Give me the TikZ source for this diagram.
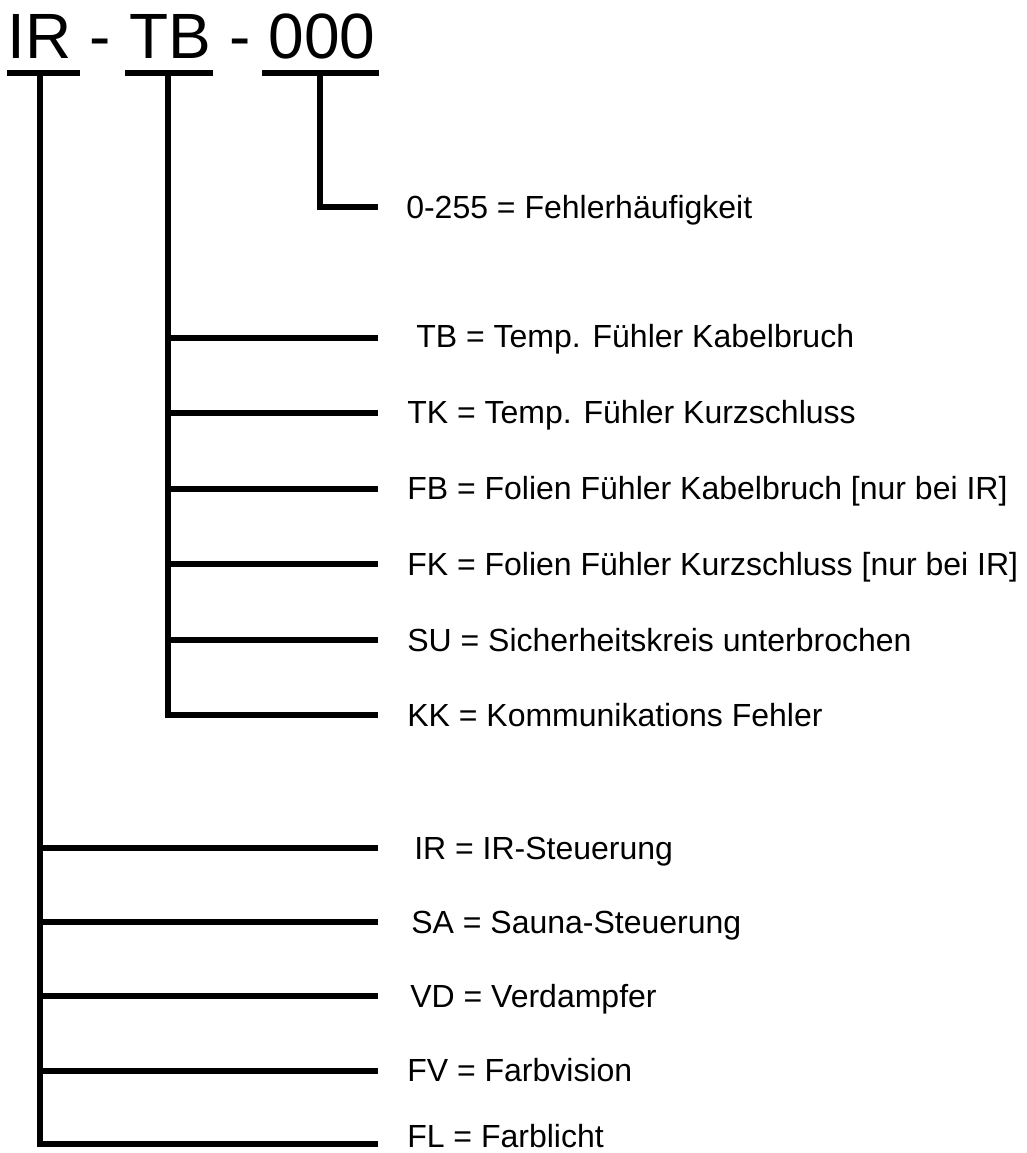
\documentclass[tikz,border=0pt]{standalone}
\usepackage{fontspec}
\setmainfont{Liberation Sans}
\usetikzlibrary{positioning}
\tikzstyle{head} = [inner sep=0pt, anchor=base west, font=\fontsize{48}{48}\selectfont]
\tikzstyle{item} = [inner sep=0pt, anchor=base west, font=\fontsize{24}{28}\selectfont]
\tikzstyle{bar}  = [line width=4.2pt]
\tikzstyle{line} = [line width=3.9pt]

\begin{document}
\begin{tikzpicture}[x=0.75pt, y=-0.75pt]
    \useasboundingbox (0,0) rectangle (1026,1153);

    % Fehlercode oben
    \node [head] (code-ir) at (7,58) {IR};
    \node [head, base right=13.3pt of code-ir] (m1) {-};
    \node [head, base right=13.3pt of m1] (code-tb) {TB};
    \node [head, base right=13.3pt of code-tb] (m2) {-};
    \node [head, base right=13.3pt of m2] (code-nr) {000};

    % Unterstriche
    \draw [bar] (7,73) -- (80,73);
    \draw [bar] (125,73) -- (213,73);
    \draw [bar] (262,73) -- (379,73);
    \coordinate (f-ir) at (40,73);
    \coordinate (f-tb) at (168,73);
    \coordinate (f-nr) at (320,73);

    % Zaehler
    \coordinate (e-nr) at (378,207);
    \node [item] (l-nr) at (406,218.5) {0-255 = Fehlerhäufigkeit};
    \draw [line] (f-nr) |- (e-nr);

    % Fehlerart
    \coordinate (e-tb) at (378,338);
    \coordinate (e-tk) at (378,413);
    \coordinate (e-fb) at (378,489);
    \coordinate (e-fk) at (378,564);
    \coordinate (e-su) at (378,640);
    \coordinate (e-kk) at (378,715);
    \node [item] (l-tb) at (416,347.5) {TB = Temp. Fühler Kabelbruch};
    \node [item] (l-tk) at (407,423.5) {TK = Temp. Fühler Kurzschluss};
    \node [item] (l-fb) at (407,499.5) {FB = Folien Fühler Kabelbruch [nur bei IR]};
    \node [item] (l-fk) at (407,575.5) {FK = Folien Fühler Kurzschluss [nur bei IR]};
    \node [item] (l-su) at (407,651.5) {SU = Sicherheitskreis unterbrochen};
    \node [item] (l-kk) at (407,726.5) {KK = Kommunikations Fehler};
    \draw [line] (f-tb) |- (e-kk);
    \draw [line] (f-tb |- e-tb) -- (e-tb);
    \draw [line] (f-tb |- e-tk) -- (e-tk);
    \draw [line] (f-tb |- e-fb) -- (e-fb);
    \draw [line] (f-tb |- e-fk) -- (e-fk);
    \draw [line] (f-tb |- e-su) -- (e-su);

    % Geraet
    \coordinate (e-ir) at (378,848);
    \coordinate (e-sa) at (378,922);
    \coordinate (e-vd) at (378,996);
    \coordinate (e-fv) at (378,1071);
    \coordinate (e-fl) at (378,1144);
    \node [item] (l-ir) at (414,859.5) {IR = IR-Steuerung};
    \node [item] (l-sa) at (411,933.5) {SA = Sauna-Steuerung};
    \node [item] (l-vd) at (410,1007.5) {VD = Verdampfer};
    \node [item] (l-fv) at (407,1081.5) {FV = Farbvision};
    \node [item] (l-fl) at (407,1147) {FL = Farblicht};
    \draw [line] (f-ir) |- (e-fl);
    \draw [line] (f-ir |- e-ir) -- (e-ir);
    \draw [line] (f-ir |- e-sa) -- (e-sa);
    \draw [line] (f-ir |- e-vd) -- (e-vd);
    \draw [line] (f-ir |- e-fv) -- (e-fv);
\end{tikzpicture}
\end{document}
